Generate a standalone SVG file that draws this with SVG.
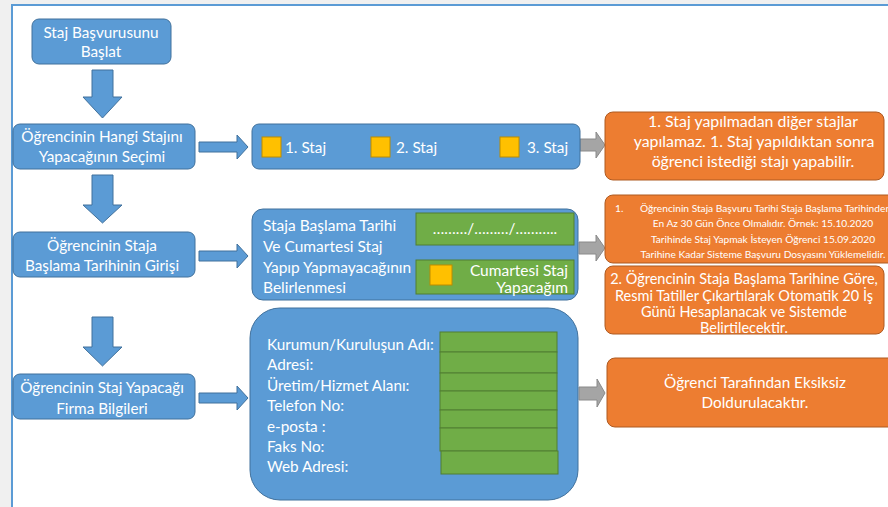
<svg xmlns="http://www.w3.org/2000/svg" width="888" height="507" viewBox="0 0 888 507">
<style>
.b{fill:#5b9bd5;stroke:#41719c;stroke-width:1}
.o{fill:#ed7d31;stroke:#ae5a21;stroke-width:1}
.g{fill:#70ad47;stroke:#507e32;stroke-width:1}
.y{fill:#ffc000;stroke:#bc8c00;stroke-width:1}
.ga{fill:#a5a5a5;stroke:#8a8a8a;stroke-width:1}
text{font-family:Lato,"Noto Sans",sans-serif;fill:#fff;font-size:15.3px}
.c{text-anchor:middle}
.r{text-anchor:end}
.s{font-size:10.2px}
.m{font-size:15.3px}
.n{font-size:14.5px}
.d{font-size:15.5px}
.e{font-size:15.9px}
</style>
<rect x="0" y="0" width="888" height="507" fill="#f0f0f0"/>
<rect x="12" y="5" width="880" height="510" fill="#fff" stroke="#5b9bd5" stroke-width="2"/>

<g id="connectors">
  <polygon class="b" points="92,70 113,70 113,97 122,97 102.5,118 83,97 92,97"/>
  <polygon class="b" points="92,175 113,175 113,205 122,205 102.5,223 83,205 92,205"/>
  <polygon class="b" points="92,317 113,317 113,347 122,347 102.5,366 83,347 92,347"/>
  <polygon class="b" points="199,142 237,142 237,135 248,147 237,159 237,152 199,152"/>
  <polygon class="b" points="199,251 237,251 237,244 248,256 237,268 237,261 199,261"/>
  <polygon class="b" points="199,393 237,393 237,386 248,398 237,410 237,403 199,403"/>
  <polygon class="ga" points="580,139 596,139 596,132 605,145 596,158 596,151 580,151"/>
  <polygon class="ga" points="579,242 596,242 596,235 605,248 596,261 596,254 579,254"/>
  <polygon class="ga" points="579,387 597,387 597,379 605,393 597,407 597,400 579,400"/>
</g>

<g id="start">
  <rect class="b" x="32" y="19" width="139" height="45" rx="7"/>
  <text class="c" x="101" y="38">Staj Başvurusunu</text>
  <text class="c" x="101" y="57">Başlat</text>
</g>

<g id="select">
  <rect class="b" x="13" y="124" width="182" height="45" rx="7"/>
  <text class="c" x="102" y="142">Öğrencinin Hangi Stajını</text>
  <text class="c" x="102" y="162">Yapacağının Seçimi</text>
</g>

<g id="choices">
  <rect class="b" x="252" y="124" width="328" height="45" rx="7"/>
  <rect class="y" x="262" y="137" width="19" height="20"/>
  <text x="285" y="153">1. Staj</text>
  <rect class="y" x="371" y="137" width="19" height="20"/>
  <text x="396" y="153">2. Staj</text>
  <rect class="y" x="500" y="137" width="19" height="20"/>
  <text x="527" y="153">3. Staj</text>
</g>

<g id="note1">
  <rect class="o" x="605" y="112" width="279" height="68" rx="8"/>
  <text class="c e" x="753" y="127">1. Staj yapılmadan diğer stajlar</text>
  <text class="c e" x="754" y="147">yapılamaz. 1. Staj yapıldıktan sonra</text>
  <text class="c e" x="753" y="167">öğrenci istediği stajı yapabilir.</text>
</g>

<g id="date">
  <rect class="b" x="13" y="232" width="182" height="45" rx="7"/>
  <text class="c" x="102" y="251">Öğrencinin Staja</text>
  <text class="c" x="102" y="271">Başlama Tarihinin Girişi</text>
</g>

<g id="dateform">
  <rect class="b" x="252" y="209" width="326" height="91" rx="11"/>
  <text class="d" x="263" y="231">Staja Başlama Tarihi</text>
  <text class="d" x="263" y="252">Ve Cumartesi Staj</text>
  <text class="d" x="263" y="273">Yapıp Yapmayacağının</text>
  <text class="d" x="263" y="293">Belirlenmesi</text>
  <rect class="g" x="416" y="213" width="158" height="32"/>
  <text class="c m" x="495" y="234">………/………/………..</text>
  <rect class="g" x="416" y="260" width="158" height="34"/>
  <rect class="y" x="430" y="265" width="22" height="20"/>
  <text class="r d" x="568" y="276">Cumartesi Staj</text>
  <text class="r d" x="568" y="293">Yapacağım</text>
</g>

<g id="note2">
  <rect class="o" x="605" y="195" width="300" height="68" rx="8"/>
  <text class="s" x="615" y="212">1.</text>
  <text class="s" x="640" y="212">Öğrencinin Staja Başvuru Tarihi Staja Başlama Tarihinden</text>
  <text class="c s" x="763" y="227">En Az 30 Gün Önce Olmalıdır. Örnek: 15.10.2020</text>
  <text class="c s" x="763" y="243">Tarihinde Staj Yapmak İsteyen Öğrenci 15.09.2020</text>
  <text class="c s" x="763" y="258">Tarihine Kadar Sisteme Başvuru Dosyasını Yüklemelidir.</text>
</g>

<g id="note3">
  <rect class="o" x="605" y="266" width="279" height="68" rx="8"/>
  <text class="c n" x="744" y="284">2. Öğrencinin Staja Başlama Tarihine Göre,</text>
  <text class="c n" x="744" y="300.5">Resmi Tatiller  Çıkartılarak Otomatik 20 İş</text>
  <text class="c n" x="744" y="317">Günü Hesaplanacak ve Sistemde</text>
  <text class="c n" x="744" y="333">Belirtilecektir.</text>
</g>

<g id="firm">
  <rect class="b" x="13" y="374" width="182" height="45" rx="7"/>
  <text class="c" x="102" y="393">Öğrencinin Staj Yapacağı</text>
  <text class="c" x="102" y="414">Firma Bilgileri</text>
</g>

<g id="firmform">
  <rect class="b" x="250" y="308" width="328" height="192" rx="30"/>
  <text class="m" x="267" y="350">Kurumun/Kuruluşun Adı:</text>
  <text class="m" x="267" y="370">Adresi:</text>
  <text class="m" x="267" y="391">Üretim/Hizmet Alanı:</text>
  <text class="m" x="267" y="411">Telefon No:</text>
  <text class="m" x="267" y="432">e-posta :</text>
  <text class="m" x="267" y="452">Faks No:</text>
  <text class="m" x="267" y="472">Web Adresi:</text>
  <rect class="g" x="440" y="332" width="117" height="20"/>
  <rect class="g" x="440" y="352" width="117" height="21"/>
  <rect class="g" x="440" y="373" width="117" height="18"/>
  <rect class="g" x="440" y="391" width="117" height="19"/>
  <rect class="g" x="440" y="410" width="117" height="18"/>
  <rect class="g" x="440" y="428" width="117" height="23"/>
  <rect class="g" x="441" y="451" width="117" height="23"/>
</g>

<g id="note4">
  <rect class="o" x="607" y="358" width="290" height="69" rx="8"/>
  <text class="c m" x="755" y="388">Öğrenci Tarafından Eksiksiz</text>
  <text class="c m" x="755" y="408">Doldurulacaktır.</text>
</g>
</svg>
